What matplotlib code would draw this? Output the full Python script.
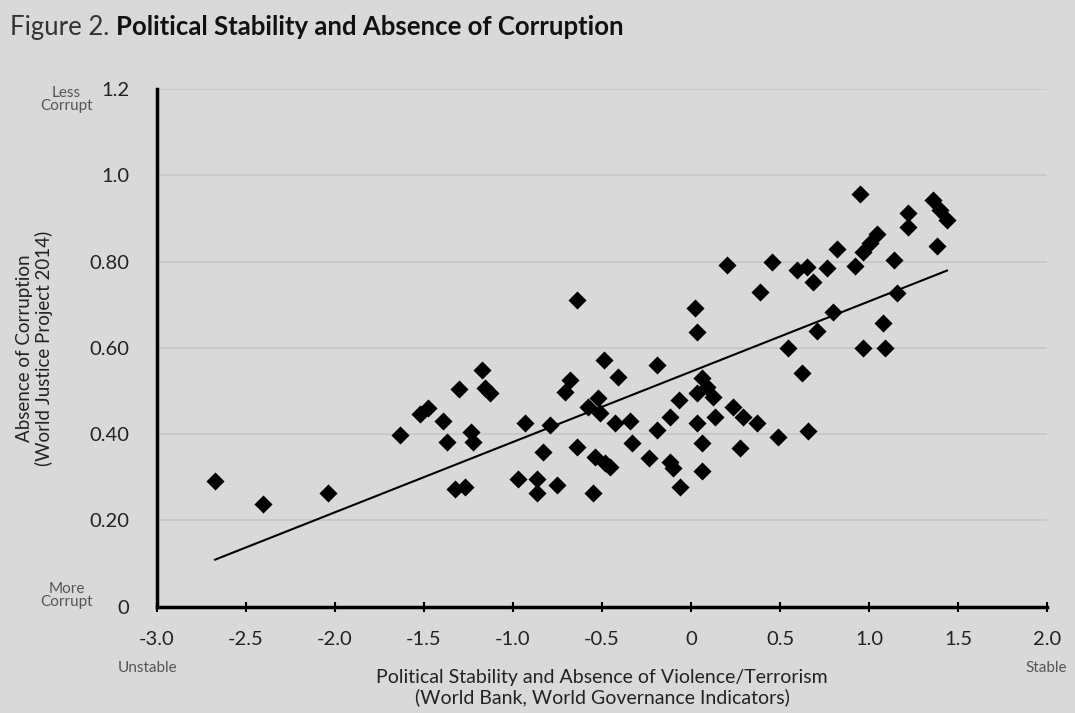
import matplotlib
matplotlib.use("Agg")
import matplotlib.pyplot as plt
import numpy as np

# stability score (World Bank) vs absence of corruption (WJP 2014)
stability = [-2.674, -2.404, -2.039, -1.635, -1.522, -1.478, -1.393, -1.303, -1.174, -1.157,
             -1.129, -1.236, -1.371, -1.225, -1.326, -1.270,
             -0.972, -0.865, -0.865, -0.753, -0.933, -0.792, -0.831, -0.708, -0.680, -0.640,
             -0.640, -0.489, -0.410, -0.522, -0.579, -0.511, -0.427, -0.343, -0.331, -0.539,
             -0.483, -0.455, -0.551, -0.236, -0.118, -0.101, -0.062, -0.191, -0.067, -0.118,
             -0.191,
             0.022, 0.034, 0.062, 0.090, 0.034, 0.124, 0.135, 0.034, 0.062, 0.062,
             0.236, 0.292, 0.371, 0.275, 0.489, 0.657, 0.202, 0.455, 0.388, 0.596,
             0.652, 0.685, 0.764, 0.798, 0.708, 0.545, 0.624,
             0.949, 1.360, 1.399, 1.438, 1.219, 1.219, 1.045, 1.006, 0.966, 0.921,
             0.820, 1.140, 1.382, 1.157, 1.079, 0.966, 1.090]
corruption = [0.292, 0.238, 0.264, 0.398, 0.447, 0.461, 0.431, 0.505, 0.549, 0.507,
              0.495, 0.405, 0.382, 0.382, 0.273, 0.278,
              0.296, 0.296, 0.264, 0.282, 0.426, 0.421, 0.359, 0.498, 0.525, 0.711,
              0.370, 0.572, 0.532, 0.484, 0.463, 0.449, 0.426, 0.431, 0.380, 0.347,
              0.333, 0.324, 0.264, 0.345, 0.336, 0.322, 0.278, 0.560, 0.479, 0.440,
              0.410,
              0.692, 0.637, 0.530, 0.509, 0.495, 0.486, 0.440, 0.426, 0.380, 0.315,
              0.463, 0.440, 0.426, 0.368, 0.394, 0.407, 0.792, 0.799, 0.729, 0.780,
              0.787, 0.752, 0.785, 0.683, 0.639, 0.600, 0.542,
              0.958, 0.942, 0.919, 0.896, 0.912, 0.880, 0.863, 0.843, 0.822, 0.789,
              0.829, 0.803, 0.836, 0.727, 0.657, 0.600, 0.600]

# trend line as drawn in the original
trend_slope = 0.163
trend_intercept = 0.545

xticks = [-3.0, -2.5, -2.0, -1.5, -1.0, -0.5, 0, 0.5, 1.0, 1.5, 2.0]
xtick_labels = ["-3.0", "-2.5", "-2.0", "-1.5", "-1.0", "-0.5", "0", "0.5", "1.0", "1.5", "2.0"]
yticks = [0, 0.2, 0.4, 0.6, 0.8, 1.0, 1.2]
ytick_labels = ["0", "0.20", "0.40", "0.60", "0.80", "1.0", "1.2"]

plt.rcParams['font.family'] = ['Lato', 'DejaVu Sans']
bg = '#d9d9d9'

fig = plt.figure(figsize=(10.75, 7.13), dpi=100, facecolor=bg)
ax = fig.add_axes([0.146, 0.149, 0.828, 0.726], facecolor=bg)

ax.set_xlim(-3.0, 2.0)
ax.set_ylim(0, 1.2)
for y in yticks[1:]:
    ax.axhline(y, color='#c6c6c6', lw=1.2, zorder=0)

ax.scatter(stability, corruption, marker='D', s=85, color='black', zorder=3, linewidths=0)

tx = np.array([min(stability), max(stability)])
ax.plot(tx, trend_intercept + trend_slope * tx, color='black', lw=1.5, zorder=2)

for side in ['top', 'right']:
    ax.spines[side].set_visible(False)
ax.spines['left'].set_linewidth(2.5)
ax.spines['bottom'].set_linewidth(2.5)

ax.set_xticks(xticks)
ax.set_xticklabels(xtick_labels, fontsize=14.5, color='#222222')
ax.set_yticks(yticks)
ax.set_yticklabels(ytick_labels, fontsize=14.5, color='#222222')
ax.tick_params(axis='x', direction='inout', length=7, width=1.5, pad=14)
ax.tick_params(axis='y', length=0, pad=20)

ax.set_xlabel("Political Stability and Absence of Violence/Terrorism\n(World Bank, World Governance Indicators)",
              fontsize=14, color='#222222', labelpad=15, linespacing=1.15)
ax.set_ylabel("Absence of Corruption\n(World Justice Project 2014)",
              fontsize=13.5, color='#222222', labelpad=26, linespacing=1.15)

fig.text(0.062, 0.86, "Less\nCorrupt", ha='center', va='center', fontsize=11,
         color='#555555', linespacing=0.9)
fig.text(0.062, 0.165, "More\nCorrupt", ha='center', va='center', fontsize=11,
         color='#555555', linespacing=0.9)
fig.text(0.137, 0.063, "Unstable", ha='center', va='center', fontsize=11, color='#555555')
fig.text(0.973, 0.063, "Stable", ha='center', va='center', fontsize=11, color='#555555')

t1 = fig.text(0.009, 0.962, "Figure 2. ", ha='left', va='center', fontsize=18.5, color='#333333')
fig.canvas.draw()
bb = t1.get_window_extent().transformed(fig.transFigure.inverted())
fig.text(bb.x1, 0.962, "Political Stability and Absence of Corruption", ha='left', va='center',
         fontsize=18.5, fontweight='bold', color='#111111')

fig.savefig("out.png", dpi=100, facecolor=bg)
